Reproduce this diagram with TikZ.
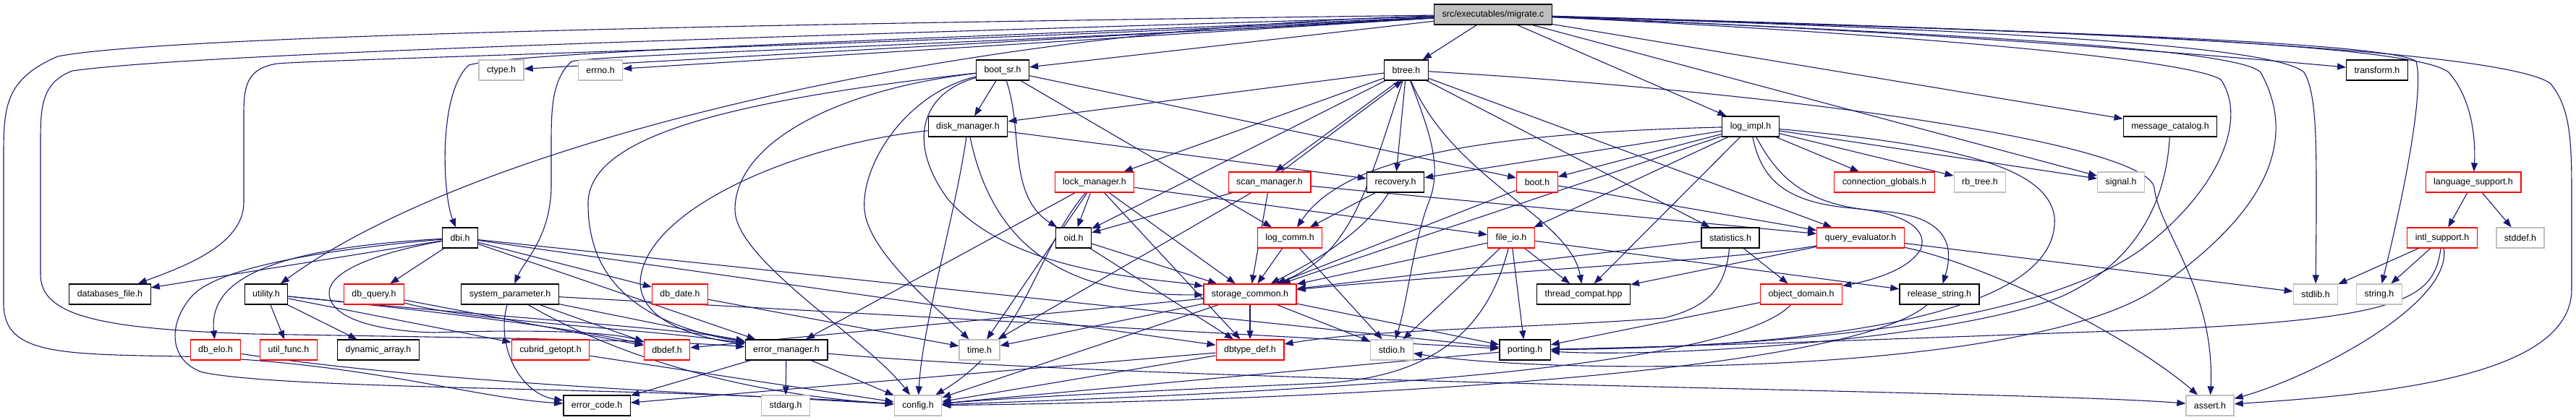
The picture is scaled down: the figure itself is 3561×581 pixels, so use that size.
\documentclass[tikz,border=0pt]{standalone}
\usepackage{fontspec}
\setmainfont{Liberation Sans}
\usetikzlibrary{arrows.meta,backgrounds}
\definecolor{depblue}{HTML}{191970}
\definecolor{colred}{HTML}{FF0000}
\definecolor{colgray}{HTML}{BFBFBF}
\tikzset{
  hfile/.style={draw=black,fill=white,line width=1.3pt,minimum height=28pt,inner xsep=11pt,inner ysep=0pt,font=\fontsize{12.4pt}{14pt}\selectfont},
  hpart/.style={hfile,draw=colred},
  hsys/.style={hfile,draw=colgray},
  htop/.style={hfile,fill=colgray},
  dep/.style={depblue,line width=1.1pt,-{Triangle[length=12pt,width=9pt]}}
}
\begin{document}
\begin{tikzpicture}[x=1pt,y=-1pt]
\useasboundingbox (0,0) rectangle (3561,581);
% headers, row by row
\node[htop] (mig) at (2064,20) {src/executables/migrate.c};
\node[hsys] (ctype) at (693,97) {ctype.h};
\node[hsys] (errno) at (830,97) {errno.h};
\node[hfile] (bootsr) at (1386,97) {boot\_sr.h};
\node[hfile] (btree) at (1944,97) {btree.h};
\node[hfile] (transform) at (3286,97) {transform.h};
\node[hfile] (diskmgr) at (1338,175) {disk\_manager.h};
\node[hfile] (logimpl) at (2420,175) {log\_impl.h};
\node[hfile] (msgcat) at (3000,175) {message\_catalog.h};
\node[hpart] (lockmgr) at (1513,252) {lock\_manager.h};
\node[hpart] (scanmgr) at (1755,252) {scan\_manager.h};
\node[hfile] (recovery) at (1929,252) {recovery.h};
\node[hpart] (boot) at (2125,252) {boot.h};
\node[hpart] (connglob) at (2605,252) {connection\_globals.h};
\node[hsys] (rbtree) at (2737,252) {rb\_tree.h};
\node[hsys] (signal) at (2932,252) {signal.h};
\node[hpart] (langsup) at (3419,252) {language\_support.h};
\node[hfile] (dbi) at (636,329) {dbi.h};
\node[hfile] (oid) at (1484,329) {oid.h};
\node[hpart] (logcomm) at (1783,329) {log\_comm.h};
\node[hpart] (fileio) at (2089,329) {file\_io.h};
\node[hfile] (statistics) at (2392,329) {statistics.h};
\node[hpart] (queryeval) at (2572,329) {query\_evaluator.h};
\node[hpart] (intlsup) at (3376,329) {intl\_support.h};
\node[hsys] (stddef) at (3484,329) {stddef.h};
\node[hfile] (dbfile) at (152,407) {databases\_file.h};
\node[hfile] (utility) at (368,407) {utility.h};
\node[hpart] (dbquery) at (517,407) {db\_query.h};
\node[hfile] (sysparam) at (705,407) {system\_parameter.h};
\node[hpart] (dbdate) at (940,407) {db\_date.h};
\node[hpart] (storcom) at (1728,407) {storage\_common.h};
\node[hfile] (thrcompat) at (2189,407) {thread\_compat.hpp};
\node[hpart] (objdomain) at (2490,407) {object\_domain.h};
\node[hfile] (relstring) at (2681,407) {release\_string.h};
\node[hsys] (stdlib) at (3201,407) {stdlib.h};
\node[hsys] (string) at (3289,407) {string.h};
\node[hpart] (dbelo) at (298,484) {db\_elo.h};
\node[hpart] (utilfunc) at (399,484) {util\_func.h};
\node[hfile] (dynarray) at (523,484) {dynamic\_array.h};
\node[hpart] (getopt) at (761,484) {cubrid\_getopt.h};
\node[hpart] (dbdef) at (922,484) {dbdef.h};
\node[hfile] (errmgr) at (1087,484) {error\_manager.h};
\node[hsys] (time) at (1354,484) {time.h};
\node[hpart] (dbtypedef) at (1728,484) {dbtype\_def.h};
\node[hsys] (stdio) at (1924,484) {stdio.h};
\node[hfile] (porting) at (2108,484) {porting.h};
\node[hfile] (errcode) at (825,561) {error\_code.h};
\node[hsys] (stdarg) at (1086,561) {stdarg.h};
\node[hsys] (config) at (1269,561) {config.h};
\node[hsys] (assert) at (3055,561) {assert.h};
\begin{scope}[on background layer]
% migrate.c
\draw[dep] (mig) -- (ctype);
\draw[dep] (mig) -- (errno);
\draw[dep] (mig) -- (bootsr);
\draw[dep] (mig) -- (btree);
\draw[dep] (mig) -- (logimpl);
\draw[dep] (mig) -- (msgcat);
\draw[dep] (mig) -- (signal);
\draw[dep] (mig) .. controls (2700,45) and (3100,80) .. (transform);
\draw[dep] (mig) .. controls (1300,40) and (650,200) .. (utility);
\draw[dep] (mig) .. controls (1400,50) and (720,70) .. (648,90) .. controls (605,130) and (612,270) .. (dbi);
\draw[dep] (mig) .. controls (1400,60) and (830,75) .. (790,85) .. controls (763,110) and (762,150) .. (762,200) -- (762,260) .. controls (760,330) and (725,360) .. (sysparam);
\draw[dep] (mig) .. controls (1300,60) and (450,82) .. (383,88) .. controls (340,95) and (337,120) .. (337,160) -- (337,280) .. controls (337,340) and (250,370) .. (dbfile);
\draw[dep] (mig) .. controls (1300,45) and (300,70) .. (100,98) .. controls (56,115) and (56,150) .. (56,200) -- (56,380) .. controls (56,440) and (150,455) .. (350,462) .. controls (700,468) and (900,470) .. (errmgr);
\draw[dep] (mig) .. controls (1300,30) and (250,45) .. (80,78) .. controls (5,110) and (5,150) .. (5,220) -- (5,420) .. controls (5,490) and (80,490) .. (250,493) .. controls (500,500) and (650,550) .. (errcode);
\draw[dep] (mig) .. controls (2700,40) and (3330,55) .. (3385,100) .. controls (3420,140) and (3422,200) .. (langsup);
\draw[dep] (mig) .. controls (2700,40) and (3140,60) .. (3185,100) .. controls (3203,130) and (3202,200) .. (3202,300) -- (stdlib);
\draw[dep] (mig) .. controls (2700,40) and (3300,55) .. (3340,85) .. controls (3350,120) and (3330,240) .. (string);
\draw[dep] (mig) .. controls (2800,40) and (3450,65) .. (3525,115) .. controls (3555,150) and (3555,200) .. (3555,280) -- (3555,400) .. controls (3555,520) and (3300,545) .. (assert);
\draw[dep] (mig) .. controls (2600,45) and (3020,80) .. (3070,110) .. controls (3110,170) and (3060,270) .. (2960,345) .. controls (2800,460) and (2400,480) .. (porting);
\draw[dep] (mig) .. controls (2650,45) and (3090,65) .. (3125,100) .. controls (3175,190) and (3140,290) .. (2980,400) .. controls (2800,520) and (2150,520) .. (stdio);
% boot_sr.h
\draw[dep] (bootsr) -- (diskmgr);
\draw[dep] (bootsr) -- (boot);
\draw[dep] (bootsr) -- (logcomm);
\draw[dep] (bootsr) .. controls (1415,180) and (1392,270) .. (oid);
\draw[dep] (bootsr) .. controls (1000,140) and (815,190) .. (813,280) .. controls (812,400) and (900,450) .. (errmgr);
\draw[dep] (bootsr) .. controls (1150,125) and (1016,200) .. (1016,290) .. controls (1016,360) and (1200,470) .. (config);
\draw[dep] (bootsr) .. controls (1250,130) and (1190,230) .. (1195,290) .. controls (1200,350) and (1300,430) .. (time);
\draw[dep] (bootsr) .. controls (1270,130) and (1255,200) .. (1310,275) .. controls (1400,380) and (1600,385) .. (storcom);
% disk_manager.h
\draw[dep] (diskmgr) -- (recovery);
\draw[dep] (diskmgr) .. controls (1100,200) and (890,290) .. (885,390) .. controls (885,440) and (950,465) .. (errmgr);
\draw[dep] (diskmgr) .. controls (1320,300) and (1275,450) .. (config);
\draw[dep] (diskmgr) .. controls (1370,330) and (1460,410) .. (storcom);
% btree.h
\draw[dep] (btree) -- (diskmgr);
\draw[dep] (btree) -- (lockmgr);
\draw[dep] (btree.235) -- (scanmgr.62);
\draw[dep] (scanmgr.42) -- (btree.250);
\draw[dep] (btree) -- (recovery);
\draw[dep] (btree) -- (oid);
\draw[dep] (btree) -- (statistics);
\draw[dep] (btree) -- (queryeval);
\draw[dep] (btree) .. controls (1890,260) and (1870,350) .. (storcom);
\draw[dep] (btree) .. controls (1975,180) and (1995,230) .. (1975,280) .. controls (1955,330) and (1945,420) .. (stdio);
\draw[dep] (btree) .. controls (2010,250) and (2170,300) .. (thrcompat);
\draw[dep] (btree) .. controls (2500,130) and (2970,200) .. (2978,260) .. controls (2985,320) and (3062,400) .. (assert);
% scan_manager.h, lock_manager.h, recovery.h, boot.h
\draw[dep] (scanmgr) -- (oid);
\draw[dep] (scanmgr) -- (storcom);
\draw[dep] (scanmgr) -- (time);
\draw[dep] (scanmgr) -- (queryeval);
\draw[dep] (lockmgr) -- (oid);
\draw[dep] (lockmgr) -- (storcom);
\draw[dep] (lockmgr) -- (errmgr);
\draw[dep] (lockmgr) -- (time);
\draw[dep] (lockmgr) -- (fileio);
\draw[dep] (lockmgr) -- (dbtypedef);
\draw[dep] (lockmgr) .. controls (1430,350) and (1420,470) .. (config);
\draw[dep] (recovery) -- (logcomm);
\draw[dep] (recovery) .. controls (1880,330) and (1800,370) .. (storcom);
\draw[dep] (boot) -- (queryeval);
\draw[dep] (boot) -- (storcom);
% log_impl.h
\draw[dep] (logimpl) -- (recovery);
\draw[dep] (logimpl) -- (boot);
\draw[dep] (logimpl) -- (connglob);
\draw[dep] (logimpl) -- (rbtree);
\draw[dep] (logimpl) -- (signal);
\draw[dep] (logimpl) -- (fileio);
\draw[dep] (logimpl) -- (thrcompat);
\draw[dep] (logimpl) -- (storcom);
\draw[dep] (logimpl) .. controls (2000,185) and (1850,230) .. (logcomm);
\draw[dep] (logimpl) .. controls (2435,250) and (2470,280) .. (2560,288) .. controls (2640,295) and (2665,320) .. (2655,345) .. controls (2640,370) and (2600,385) .. (objdomain);
\draw[dep] (logimpl) .. controls (2460,250) and (2500,285) .. (2600,292) .. controls (2680,298) and (2705,330) .. (relstring);
\draw[dep] (logimpl) .. controls (2700,200) and (2830,230) .. (2840,300) .. controls (2850,440) and (2500,480) .. (porting);
\draw[dep] (msgcat) .. controls (2995,270) and (2960,360) .. (2850,410) .. controls (2700,470) and (2300,495) .. (porting);
% oid.h, log_comm.h, file_io.h, statistics.h, query_evaluator.h
\draw[dep] (oid) -- (storcom);
\draw[dep] (oid) -- (dbtypedef);
\draw[dep] (logcomm) -- (storcom);
\draw[dep] (logcomm) -- (stdio);
\draw[dep] (fileio) -- (storcom);
\draw[dep] (fileio) -- (stdio);
\draw[dep] (fileio) -- (porting);
\draw[dep] (fileio) -- (thrcompat);
\draw[dep] (fileio) -- (relstring);
\draw[dep] (fileio) .. controls (2060,440) and (2000,520) .. (1830,530) .. controls (1600,540) and (1400,550) .. (config);
\draw[dep] (statistics) -- (objdomain);
\draw[dep] (statistics) -- (storcom);
\draw[dep] (statistics) .. controls (2385,400) and (2360,425) .. (2300,440) .. controls (2100,455) and (1900,455) .. (dbtypedef);
\draw[dep] (queryeval) .. controls (2400,360) and (2000,380) .. (storcom);
\draw[dep] (queryeval) -- (stdlib);
\draw[dep] (queryeval) -- (thrcompat);
\draw[dep] (queryeval) .. controls (2760,370) and (2950,470) .. (assert);
\draw[dep] (objdomain) -- (porting);
\draw[dep] (objdomain) .. controls (2380,520) and (1700,545) .. (config);
\draw[dep] (relstring) .. controls (2550,520) and (1800,555) .. (config);
% storage_common.h
\draw[dep] (storcom) -- (dbtypedef);
\draw[dep] (storcom) -- (config);
\draw[dep] (storcom) -- (stdio);
\draw[dep] (storcom) -- (porting);
\draw[dep] (storcom) -- (time);
\draw[dep] (storcom) -- (dbdef);
% dbi.h
\draw[dep] (dbi) -- (dbfile);
\draw[dep] (dbi) .. controls (340,345) and (290,400) .. (dbelo);
\draw[dep] (dbi) -- (dbquery);
\draw[dep] (dbi) -- (dbdate);
\draw[dep] (dbi) -- (errmgr);
\draw[dep] (dbi) -- (dbtypedef);
\draw[dep] (dbi) -- (porting);
\draw[dep] (dbi) .. controls (520,350) and (455,375) .. (455,405) .. controls (455,440) and (520,458) .. (600,460) .. controls (750,455) and (850,460) .. (dbdef);
\draw[dep] (dbi) .. controls (450,345) and (300,370) .. (265,410) .. controls (230,450) and (235,500) .. (280,515) .. controls (400,540) and (900,535) .. (config);
\draw[dep] (dbdate) -- (time);
\draw[dep] (dbquery) -- (dbdef);
\draw[dep] (dbquery) .. controls (650,445) and (900,455) .. (errmgr);
% utility.h, system_parameter.h
\draw[dep] (utility) -- (utilfunc);
\draw[dep] (utility) -- (dynarray);
\draw[dep] (utility) -- (getopt);
\draw[dep] (utility) .. controls (600,430) and (800,455) .. (dbdef);
\draw[dep] (utility) .. controls (700,440) and (950,455) .. (errmgr);
\draw[dep] (sysparam) .. controls (685,480) and (720,545) .. (errcode);
\draw[dep] (sysparam) -- (errmgr);
\draw[dep] (sysparam) -- (dbdef);
\draw[dep] (sysparam) -- (porting);
\draw[dep] (sysparam) .. controls (900,520) and (1100,550) .. (config);
% bottom rows
\draw[dep] (getopt) -- (config);
\draw[dep] (dbelo) .. controls (600,530) and (1000,545) .. (config);
\draw[dep] (errmgr) -- (errcode);
\draw[dep] (errmgr) -- (stdarg);
\draw[dep] (errmgr) -- (config);
\draw[dep] (errmgr) .. controls (1600,530) and (2800,540) .. (assert);
\draw[dep] (dbtypedef) -- (errcode);
\draw[dep] (dbtypedef) -- (config);
\draw[dep] (porting) -- (config);
% language support
\draw[dep] (langsup) -- (intlsup);
\draw[dep] (langsup) -- (stddef);
\draw[dep] (intlsup) -- (stdlib);
\draw[dep] (intlsup) -- (string);
\draw[dep] (intlsup) .. controls (3390,420) and (3200,520) .. (assert);
\draw[dep] (intlsup) .. controls (3365,410) and (3330,440) .. (3000,455) .. controls (2600,470) and (2300,480) .. (porting);
\end{scope}
\end{tikzpicture}
\end{document}
